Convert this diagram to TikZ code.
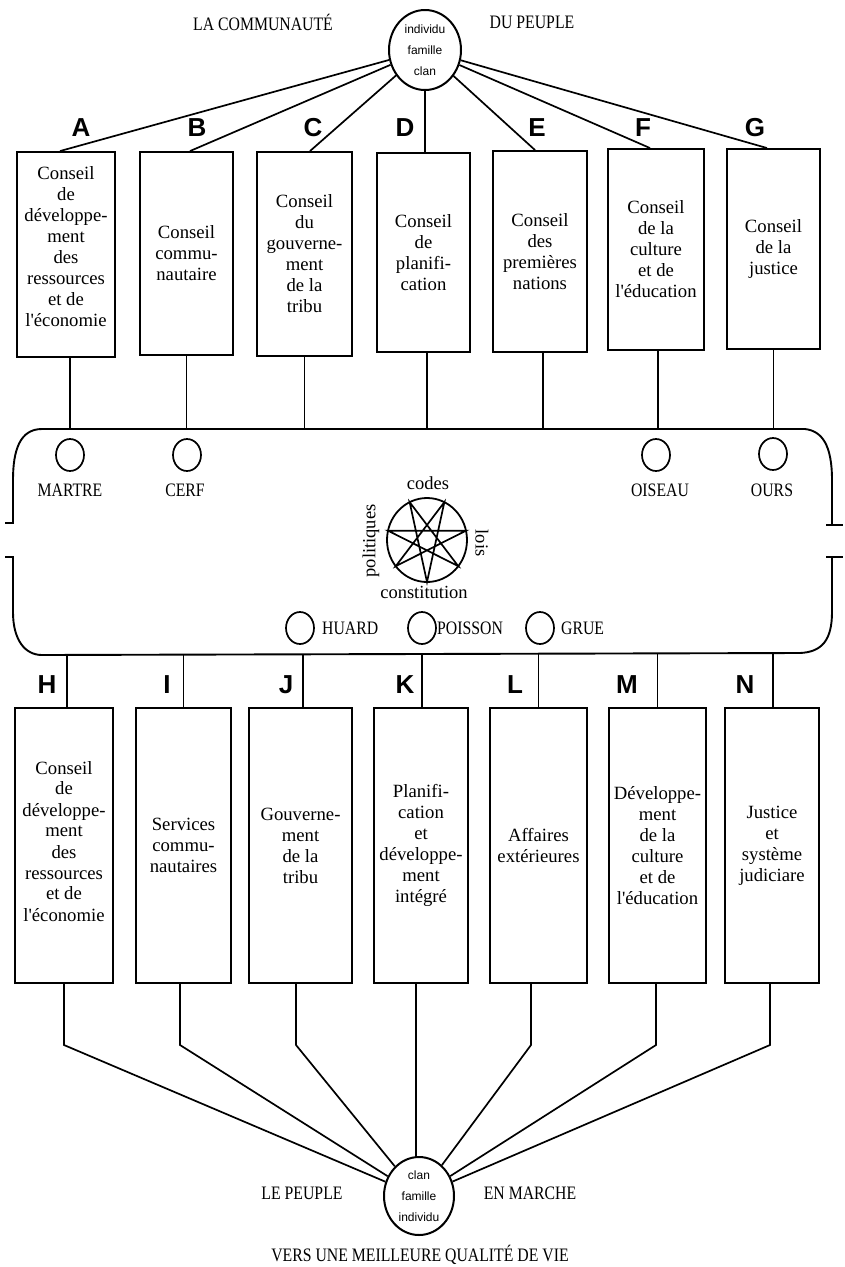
\documentclass[tikz,border=0pt]{standalone}
\usepackage{fontspec}
\usepackage{graphicx}
\setmainfont{Liberation Serif}
\newfontfamily\lettersf{Liberation Sans}
\usetikzlibrary{shapes.geometric,calc}
\newcommand{\capsl}[1]{\scalebox{0.83}[1]{\fontsize{19}{21}\selectfont #1}}
\newcommand{\apos}{\textquotesingle}
\begin{document}
\begin{tikzpicture}[x=1pt,y=-1pt,
  box/.style={draw, line width=1.9pt, inner sep=0pt, align=center, font=\fontsize{18.7}{21}\selectfont},
  conn/.style={line width=1.7pt},
  letter/.style={font=\lettersf\bfseries\fontsize{26}{26}\selectfont, inner sep=0pt},
  hub/.style={draw, ellipse, line width=2pt, inner sep=0pt, align=center, font=\lettersf\fontsize{12}{21}\selectfont},
  animal/.style={draw, ellipse, line width=1.7pt, minimum width=28pt, minimum height=32pt, inner sep=0pt},
  caps/.style={inner sep=0pt},
  lab/.style={inner sep=0pt, font=\fontsize{18.5}{20}\selectfont},
  bandline/.style={line width=1.9pt},
]
\fill[white] (0,0) rectangle (845,1267);
\useasboundingbox (0,0) rectangle (845,1267);

% hubs
\node[hub, minimum width=72pt, minimum height=80pt] (top) at (425,50) {individu\\famille\\clan};
\node[hub, minimum width=70pt, minimum height=78pt] (bot) at (419,1196) {clan\\famille\\individu};

\node[caps] (lacom) at (263,22) {\capsl{LA COMMUNAUTÉ}};
\node[caps] (dupeuple) at (532,22) {\capsl{DU PEUPLE}};
\node[caps] (lepeuple) at (302,1193) {\capsl{LE PEUPLE}};
\node[caps] (enmarche) at (530,1193) {\capsl{EN MARCHE}};
\node[caps] (vers) at (420,1255) {\capsl{VERS UNE MEILLEURE QUALITÉ DE VIE}};

% upper boxes
\node[box, minimum width=98pt, minimum height=205pt] (A) at (66,254.5) {Conseil\\de\\développe-\\ment\\des\\ressources\\et de\\l\apos économie\\[-5pt]\mbox{}};
\node[box, minimum width=93pt, minimum height=203pt] (B) at (186.5,253.5) {Conseil\\commu-\\nautaire};
\node[box, minimum width=95pt, minimum height=204pt] (C) at (304.5,254) {Conseil\\du\\gouverne-\\ment\\de la\\tribu};
\node[box, minimum width=93pt, minimum height=199pt] (D) at (423.5,252.5) {Conseil\\de\\planifi-\\cation};
\node[box, minimum width=94pt, minimum height=201pt] (E) at (540,251.5) {Conseil\\des\\premières\\nations};
\node[box, minimum width=96pt, minimum height=201pt] (F) at (656,249.5) {Conseil\\de la\\culture\\et de\\l\apos éducation};
\node[box, minimum width=93pt, minimum height=200pt] (G) at (773.5,249) {Conseil\\de la\\justice};

\node[letter] (lA) at (81,128) {A};
\node[letter] (lB) at (197,128) {B};
\node[letter] (lC) at (313,128) {C};
\node[letter] (lD) at (405,128) {D};
\node[letter] (lE) at (537,128) {E};
\node[letter] (lF) at (643,128) {F};
\node[letter] (lG) at (755,128) {G};

% lower boxes
\node[box, minimum width=98pt, minimum height=275pt] (H) at (64,845.5) {Conseil\\de\\développe-\\ment\\des\\ressources\\et de\\l\apos économie\\[-12pt]\mbox{}};
\node[box, minimum width=95pt, minimum height=275pt] (I) at (183.5,845.5) {Services\\commu-\\nautaires};
\node[box, minimum width=103pt, minimum height=275pt] (J) at (300.5,845.5) {Gouverne-\\ment\\de la\\tribu};
\node[box, minimum width=94pt, minimum height=275pt] (K) at (421,845.5) {Planifi-\\cation\\et\\développe-\\ment\\intégré};
\node[box, minimum width=97pt, minimum height=275pt] (L) at (538.5,845.5) {Affaires\\extérieures};
\node[box, minimum width=97pt, minimum height=275pt] (M) at (657.5,845.5) {Développe-\\ment\\de la\\culture\\et de\\l\apos éducation};
\node[box, minimum width=94pt, minimum height=275pt] (N) at (772,845.5) {Justice\\et\\système\\judiciare};

\node[letter] (lH) at (47,685) {H};
\node[letter] (lI) at (167,685) {I};
\node[letter] (lJ) at (286,685) {J};
\node[letter] (lK) at (405,685) {K};
\node[letter] (lL) at (515,685) {L};
\node[letter] (lM) at (627,685) {M};
\node[letter] (lN) at (745,685) {N};

% band
\coordinate (bandtop) at (0,429);
\coordinate (bandbot) at (0,654);
\draw[bandline] (5,523) -- (13,523) -- (13,480) .. controls (13,450) and (20,429) .. (42,429)
  -- (805,429) .. controls (822,431) and (832,445) .. (832,480) -- (832,525);
\draw[bandline] (826,525) -- (843,525);
\draw[bandline] (5,557) -- (13,557) -- (13,612) .. controls (13,640) and (25,655) .. (42,655)
  -- (800,653) .. controls (822,652) and (832,640) .. (832,612) -- (832,557);
\draw[bandline] (826,557) -- (843,557);

% animals
\node[animal] (cmartre) at (70,455) {};
\node[animal] (ccerf) at (187,455) {};
\node[animal] (coiseau) at (656,455) {};
\node[animal] (cours) at (773,454) {};
\node[caps] (martre) at (70,490) {\capsl{MARTRE}};
\node[caps] (cerf) at (185,490) {\capsl{CERF}};
\node[caps] (oiseau) at (660,490) {\capsl{OISEAU}};
\node[caps] (ours) at (772,490) {\capsl{OURS}};
\node[animal] (chuard) at (300,628) {};
\node[animal] (cpoisson) at (422,628) {};
\node[animal] (cgrue) at (540,628) {};
\node[caps, anchor=west] (huard) at (322,628) {\capsl{HUARD}};
\node[caps, anchor=west] (poisson) at (437,628) {\capsl{POISSON}};
\node[caps, anchor=west] (grue) at (561,628) {\capsl{GRUE}};

% star
\node[draw, ellipse, line width=1.8pt, minimum width=80pt, minimum height=84pt, inner sep=0pt] (wheel) at (427,540) {};
\foreach \k in {0,...,6} \coordinate (s\k) at ({427+40*cos(90+\k*360/7)},{540+42*sin(90+\k*360/7)});
\draw[line width=1.7pt, line join=miter] (s0) -- (s3) -- (s6) -- (s2) -- (s5) -- (s1) -- (s4) -- cycle;
\node[lab] (codes) at (428,483) {codes};
\node[lab] (constitution) at (424,592) {constitution};
\node[lab, rotate=90] (politiques) at (371,541) {politiques};
\node[lab, rotate=-90] (lois) at (482,543) {lois};

% connectors top
\draw[conn] (top) -- ([xshift=-6pt]A.north);
\draw[conn] (top) -- ([xshift=3.5pt]B.north);
\draw[conn] (top) -- ([xshift=5.5pt]C.north);
\draw[conn] (top.south) -- (top.south |- D.north);
\draw[conn] (top) -- ([xshift=-5pt]E.north);
\draw[conn] (top) -- ([xshift=-6pt]F.north);
\draw[conn] (top) -- ([xshift=-6.5pt]G.north);

% boxes to band
\draw[conn] ([xshift=4pt]A.south) -- ([xshift=4pt]A.south |- bandtop);
\draw[conn] (B.south) -- (B.south |- bandtop);
\draw[conn] (C.south) -- (C.south |- bandtop);
\draw[conn] ([xshift=3.5pt]D.south) -- ([xshift=3.5pt]D.south |- bandtop);
\draw[conn] ([xshift=3pt]E.south) -- ([xshift=3pt]E.south |- bandtop);
\draw[conn] ([xshift=2pt]F.south) -- ([xshift=2pt]F.south |- bandtop);
\draw[conn] (G.south) -- (G.south |- bandtop);

% band to lower boxes
\draw[conn] ([xshift=3pt]H.north) -- ([xshift=3pt]H.north |- bandbot);
\draw[conn] (I.north) -- (I.north |- bandbot);
\draw[conn] ([xshift=2.5pt]J.north) -- ([xshift=2.5pt]J.north |- bandbot);
\draw[conn] ([xshift=1pt]K.north) -- ([xshift=1pt]K.north |- bandbot);
\draw[conn] (L.north) -- (L.north |- bandbot);
\draw[conn] (M.north) -- (M.north |- bandbot);
\draw[conn] ([xshift=1pt]N.north) -- ([xshift=1pt]N.north |- bandbot);

% lower boxes to bottom hub
\coordinate (bend) at (0,1045);
\draw[conn] (H.south) -- (H.south |- bend) -- (bot);
\draw[conn] ([xshift=-3.5pt]I.south) -- ([xshift=-3.5pt]I.south |- bend) -- (bot);
\draw[conn] ([xshift=-4.5pt]J.south) -- ([xshift=-4.5pt]J.south |- bend) -- (bot);
\draw[conn] ([xshift=-5pt]K.south) -- ([xshift=-5pt]K.south |- bot.north);
\draw[conn] ([xshift=-7.5pt]L.south) -- ([xshift=-7.5pt]L.south |- bend) -- (bot);
\draw[conn] ([xshift=-1.5pt]M.south) -- ([xshift=-1.5pt]M.south |- bend) -- (bot);
\draw[conn] ([xshift=-2pt]N.south) -- ([xshift=-2pt]N.south |- bend) -- (bot);
\end{tikzpicture}
\end{document}
